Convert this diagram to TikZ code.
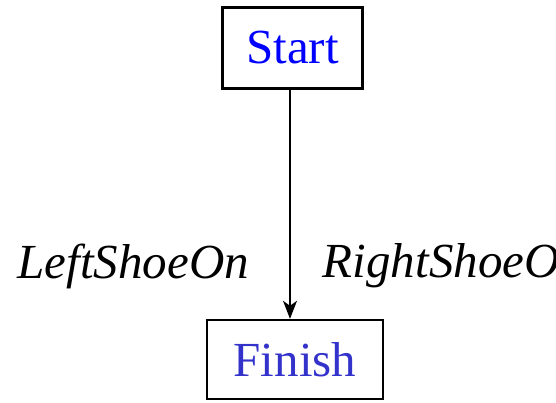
\documentclass[tikz,border=0pt]{standalone}
\usepackage{fontspec}
\setmainfont{Liberation Serif}
\usetikzlibrary{arrows.meta}
\definecolor{startblue}{RGB}{0,0,255}
\definecolor{finishblue}{RGB}{51,51,204}

\begin{document}
\begin{tikzpicture}[x=1pt,y=-1pt,
  stepbox/.style={draw,line width=2.4pt,inner sep=0pt,font=\fontsize{49}{58}\selectfont},
  lbl/.style={font=\fontsize{49}{58}\selectfont\itshape,inner sep=0pt}]
\clip (0,0) rectangle (556,402);
%the two steps
\node[stepbox,text=startblue,minimum width=140,minimum height=81] (start) at (292.5,48) {Start};
\node[stepbox,text=finishblue,minimum width=176,minimum height=79] (finish) at (295,359.5) {Finish};
%ordering link
\draw[line width=1.8pt,-{Stealth[length=18pt,width=14pt,inset=5pt]}] (start.south -| 290,0) -- (finish.north -| 290,0)
  node[pos=.77,lbl,anchor=east,xshift=-40] (left) {LeftShoeOn}
  node[pos=.77,lbl,anchor=west,xshift=32] (right) {RightShoeOn};
\end{tikzpicture}
\end{document}
